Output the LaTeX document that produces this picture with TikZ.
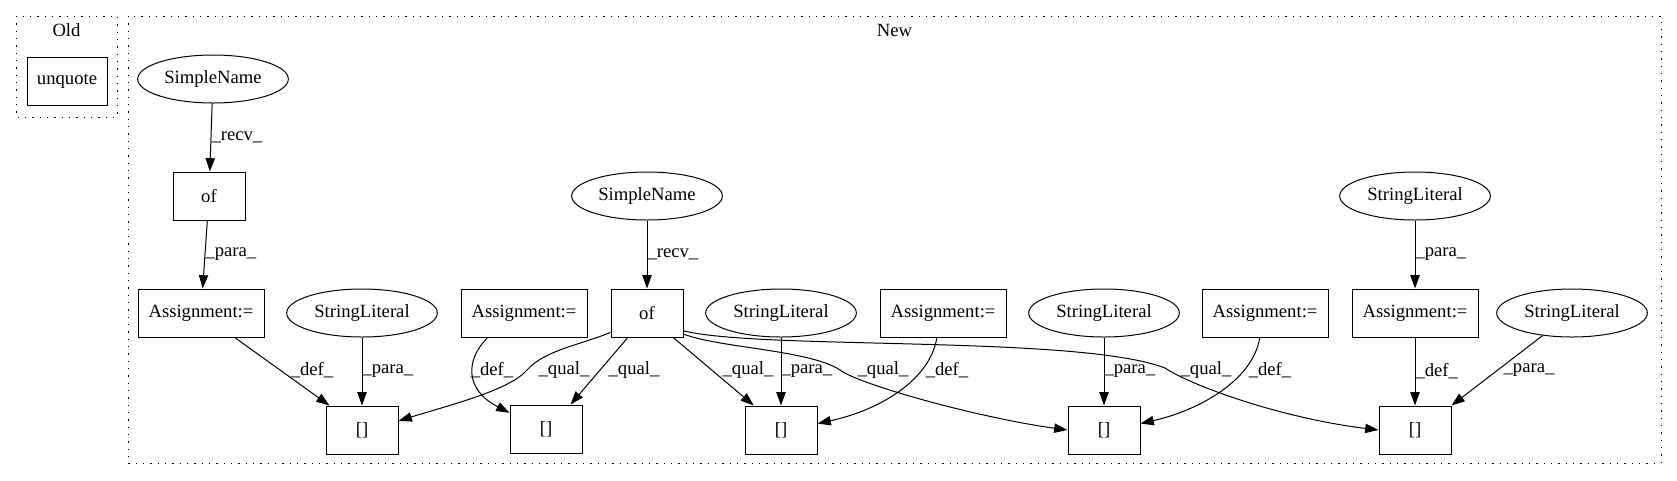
\documentclass[tikz,border=0pt]{standalone}
\usepackage{fontspec}
\setmainfont{Liberation Serif}
\usetikzlibrary{shapes.geometric, arrows.meta, positioning}

\begin{document}
\begin{tikzpicture}[x=0.75pt, y=-0.75pt, node distance=51pt,
  every node/.style={font=\fontsize{14pt}{17pt}\selectfont},
  box/.style={rectangle, draw, line width=0.75pt, minimum width=54pt, minimum height=36pt, inner sep=4pt},
  abox/.style={box, minimum width=94.5pt},
  oval/.style={ellipse, draw, line width=0.75pt, minimum width=113pt, minimum height=36pt, inner sep=0pt},
  lbl/.style={inner sep=0pt},
  arr/.style={-{Triangle[length=10pt, width=7pt]}, line width=0.75pt},
  cluster/.style={dash pattern=on 1pt off 4.5pt, line width=0.75pt}]
  \useasboundingbox (0,0) rectangle (1677,480);

  % Clusters
  \draw[cluster] (16,16) rectangle (117,117);
  \draw[cluster] (128,16) rectangle (1661,463);
  \node (oldtitle) at (66.5,30) {Old};
  \node (newtitle) at (894.5,30) {New};

  % Nodes
  \node (unquote) [box, minimum width=60pt] at (67,81) {unquote};

  \node (assign1) [abox] at (201,313) {Assignment:=};
  \node (sl1) [oval] at (362,313) {StringLiteral};
  \node (assign2) [abox] at (524,313) {Assignment:=};
  \node (of2) [box] at (647,313) {of};
  \node (sl2) [oval] at (781,313) {StringLiteral};
  \node (assign3) [abox] at (943,313) {Assignment:=};
  \node (sl3) [oval] at (1104,313) {StringLiteral};
  \node (assign4) [abox] at (1265,313) {Assignment:=};
  \node (assign5) [abox] at (1415,313) {Assignment:=};
  \node (sl5) [oval] at (1572,313) {StringLiteral};

  \node (of1) [box, above=of assign1, xshift=6pt] {of};
  \node (sname1) [oval, above=of of1, xshift=3pt] {SimpleName};
  \node (sname2) [oval, above=of of2] {SimpleName};
  \node (sl4) [oval, above=of assign5] {StringLiteral};

  \node (b1) [box, below=of sl1] {[]};
  \node (b2) [box] at (546,429) {[]};
  \node (b3) [box, below=of sl2] {[]};
  \node (b4) [box, below=of sl3] {[]};
  \node (b5) [box, below=of assign5] {[]};

  % Arrows
  \draw[arr] (sname1) -- node[lbl, right] {\_recv\_} (of1);
  \draw[arr] (of1) -- node[lbl, right] {\_para\_} (assign1);
  \draw[arr] (sname2) -- node[lbl, right] {\_recv\_} (of2);
  \draw[arr] (sl4) -- node[lbl, right] {\_para\_} (assign5);

  \draw[arr] (assign1.-36) -- (b1.143) node[lbl] at (312,370) {\_def\_};
  \draw[arr] (sl1) -- node[lbl, right] {\_para\_} (b1);
  \draw[arr] (of2.208) .. controls (580,345) and (545,350) .. (527,370)
    .. controls (510,390) and (450,405) .. (b1.14) node[lbl] at (564,370) {\_qual\_};

  \draw[arr] (assign2.214) .. controls (465,360) and (465,390) .. (b2.156) node[lbl] at (492,370) {\_def\_};
  \draw[arr] (of2.232) -- (b2.45) node[lbl] at (634,370) {\_qual\_};

  \draw[arr] (of2.-43) -- (b3.138) node[lbl] at (748,370) {\_qual\_};
  \draw[arr] (sl2) -- node[lbl, right] {\_para\_} (b3);
  \draw[arr] (assign3.256) .. controls (930,380) and (880,410) .. (b3.10) node[lbl] at (947,370) {\_def\_};

  \draw[arr] (of2.-30) .. controls (720,348) and (810,350) .. (840,370)
    .. controls (860,385) and (980,418) .. (b4.west) node[lbl] at (883,370) {\_qual\_};
  \draw[arr] (sl3) -- node[lbl, right] {\_para\_} (b4);
  \draw[arr] (assign4.258) .. controls (1253,380) and (1200,410) .. (b4.10) node[lbl] at (1270,370) {\_def\_};

  \draw[arr] (of2.-26) .. controls (760,350) and (1080,335) .. (1165,368)
    .. controls (1190,385) and (1280,418) .. (b5.west) node[lbl] at (1206,370) {\_qual\_};
  \draw[arr] (assign5) -- node[lbl, right] {\_def\_} (b5);
  \draw[arr] (sl5) -- (b5.north east) node[lbl] at (1529,370) {\_para\_};
\end{tikzpicture}
\end{document}
